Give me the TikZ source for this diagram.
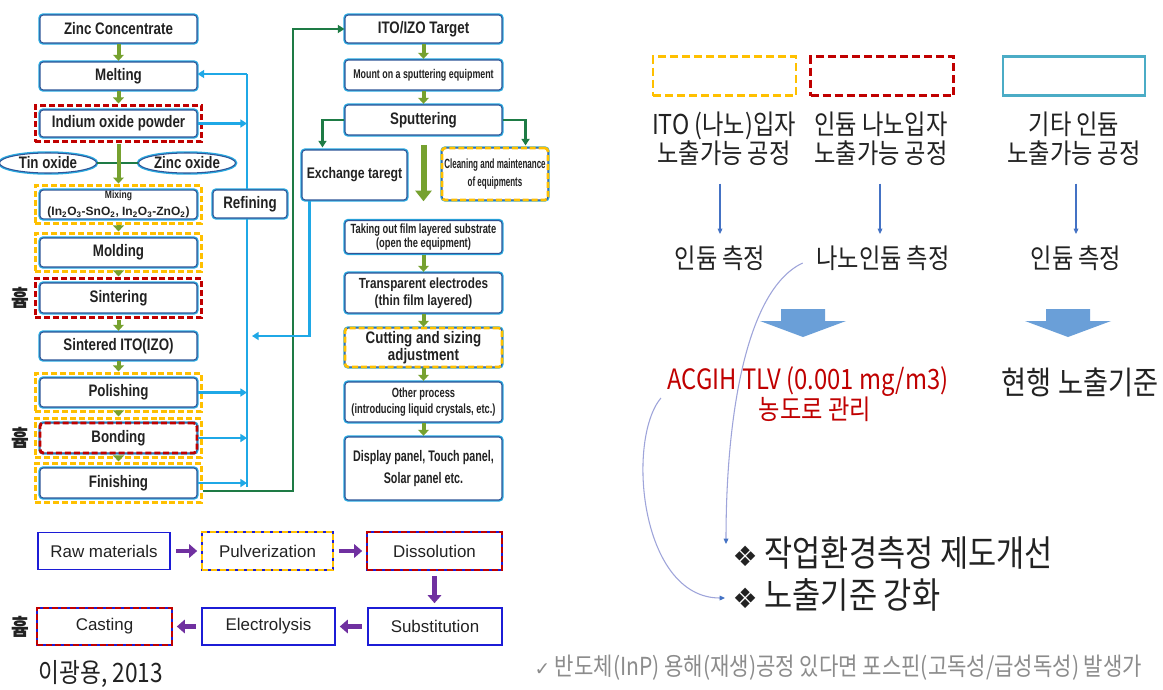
\documentclass[tikz,border=0pt]{standalone}
\usepackage{fontspec}
\setmainfont{Liberation Sans}
\newfontfamily\cond{Liberation Sans}[FakeStretch=0.8]
\newfontfamily\condm{Liberation Sans}[FakeStretch=0.7]
\newfontfamily\condn{Liberation Sans}[FakeStretch=0.6]
\newfontfamily\krf{Noto Sans CJK KR}[FakeStretch=0.85]
\newfontfamily\symf{DejaVu Sans}
\usetikzlibrary{arrows.meta,shapes.geometric,calc,fit}
\definecolor{cyanb}{HTML}{29ABE2}
\definecolor{navyb}{HTML}{2F5597}
\definecolor{oliveg}{HTML}{76A12F}
\definecolor{dgreen}{HTML}{1E7B45}
\definecolor{lblue}{HTML}{1FA8E6}
\definecolor{yel}{HTML}{FFC000}
\definecolor{redd}{HTML}{C00000}
\definecolor{purp}{HTML}{7030A0}
\definecolor{bblue}{HTML}{1C1CD6}
\definecolor{txt}{HTML}{222222}
\definecolor{tblue}{HTML}{4472C4}
\definecolor{curv}{HTML}{9EA4DA}
\definecolor{blkc}{HTML}{6A9FD8}
\definecolor{grayt}{HTML}{8C8C8C}
\definecolor{legcy}{HTML}{4BACC6}
\begin{document}
\begin{tikzpicture}[x=0.75pt,y=-0.75pt,
 pbox/.style={draw=navyb, line width=0.8pt, rounded corners=2.5pt, fill=white,
   preaction={draw=cyanb, line width=2.6pt}, minimum width=117.75pt, minimum height=21pt,
   inner sep=0.5pt, align=center, text=txt, font=\cond\bfseries\fontsize{12.5}{14}\selectfont},
 ebox/.style={ellipse, draw=navyb, line width=0.8pt, fill=white, preaction={draw=cyanb, line width=2.6pt},
   minimum width=72.75pt, minimum height=15pt, inner xsep=0pt, inner ysep=-2.5pt, text=txt,
   font=\cond\bfseries\fontsize{12.5}{14}\selectfont},
 ydash/.style={draw=yel, line width=2pt, dash pattern=on 4.5pt off 2.2pt, inner sep=3pt},
 rdash/.style={draw=redd, line width=2pt, dash pattern=on 4.5pt off 2.2pt, inner sep=3pt},
 yover/.style={postaction={draw=yel, line width=2pt, dash pattern=on 4.5pt off 2.2pt}},
 rover/.style={postaction={draw=redd, line width=2.2pt, dash pattern=on 4.5pt off 2.2pt}},
 garr/.style={draw=oliveg, line width=3pt, -{Triangle[length=4.5pt,width=8pt]}, shorten <=0.5pt, shorten >=0.5pt},
 dgline/.style={draw=dgreen, line width=2pt},
 dgarr/.style={draw=dgreen, line width=2pt, -{Triangle[length=5pt,width=6pt]}},
 bline/.style={draw=lblue, line width=2pt},
 barr/.style={draw=lblue, line width=2pt, -{Triangle[length=5pt,width=6pt]}},
 bbox/.style={draw=bblue, line width=1.2pt, fill=white, minimum width=99pt, minimum height=27.75pt,
   text=txt, font=\fontsize{12.7}{15}\selectfont},
 parr/.style={draw=purp, line width=3.5pt, -{Triangle[length=6pt,width=10pt]}, shorten <=4pt, shorten >=3pt},
 humlabel/.style={text=txt, font=\krf\bfseries\fontsize{17}{20}\selectfont, inner sep=0pt},
 krt/.style={text=txt, font=\krf\fontsize{20.5}{22}\selectfont, align=center, inner sep=1pt},
 legy/.style={draw=yel, line width=2.2pt, dash pattern=on 6pt off 3pt, minimum width=107.25pt, minimum height=29.25pt},
 legr/.style={draw=redd, line width=2.2pt, dash pattern=on 6pt off 3pt, minimum width=107.25pt, minimum height=29.25pt},
 legc/.style={draw=legcy, line width=1.8pt, minimum width=106.5pt, minimum height=29.25pt},
 tarr/.style={draw=tblue, line width=0.8pt, -{Triangle[length=4pt,width=3.5pt]}},
 carr/.style={draw=curv, line width=0.8pt, -{Triangle[length=4pt,width=3.5pt,color=tblue]}},
 blockarr/.style={fill=blkc},
]
\path[use as bounding box, fill=white] (0,0) rectangle (1163,689);

% refining return line (light blue)
\coordinate (bt) at (247,74);
\coordinate (bb) at (247,487);
\coordinate (gc) at (293,29);
\coordinate (ret) at (252,336);
\draw[bline] (bt) -- (bb);

% ---------------- left column ----------------
\node[pbox] (zinc) at (118.5,29) {Zinc Concentrate};
\node[pbox] (melt) at (118.5,76) {Melting};
\node[pbox, minimum height=20.25pt] (indium) at (118.5,123.5) {Indium oxide powder};
\node[rdash, fit=(indium)] (indiumo) {};
\node[ebox] (tin) at (48,163) {Tin oxide};
\node[ebox] (zincox) at (187,163) {Zinc oxide};
\node[pbox, minimum height=18.75pt] (mix) at (118.5,204.5)
  {{\fontsize{8}{9}\selectfont Mixing}\\[-1pt]{\normalfont\bfseries\fontsize{9}{10}\selectfont (In\textsubscript{2}O\textsubscript{3}-SnO\textsubscript{2}, In\textsubscript{2}O\textsubscript{3}-ZnO\textsubscript{2})}};
\node[ydash, fit=(mix)] (mixo) {};
\node[pbox, minimum width=55.5pt] (refining) at (250,204) {Refining};
\node[pbox, minimum height=21.75pt] (mold) at (118.5,252.5) {Molding};
\node[ydash, fit=(mold)] (moldo) {};
\node[pbox, minimum height=22.5pt] (sinter) at (118.5,298) {Sintering};
\node[rdash, fit=(sinter)] (sintero) {};
\node[pbox] (sintered) at (118.5,346) {Sintered ITO(IZO)};
\node[pbox, minimum height=21.75pt] (polish) at (118.5,392.5) {Polishing};
\node[ydash, fit=(polish)] (polisho) {};
\node[pbox, minimum height=22.5pt, rover] (bond) at (118.5,438) {Bonding};
\node[ydash, fit=(bond)] (bondo) {};
\node[pbox, minimum height=22.5pt] (finish) at (118.5,483) {Finishing};
\node[ydash, fit=(finish)] (finisho) {};

\node[humlabel] (h1) at (20,298) {흄};
\node[humlabel] (h2) at (20,438) {흄};
\node[humlabel] (h3) at (20,627) {흄};

% ---------------- middle column ----------------
\node[pbox] (target) at (423.5,29) {ITO/IZO Target};
\node[pbox, minimum height=22.5pt, font=\condm\bfseries\fontsize{9.5}{11}\selectfont] (mount) at (423.5,75) {Mount on a sputtering equipment};
\node[pbox, minimum height=22.5pt] (sputter) at (423.5,120) {Sputtering};
\node[pbox, minimum width=78.75pt, minimum height=37.5pt, font=\cond\bfseries\fontsize{11.5}{13}\selectfont] (exch) at (354.5,175) {Exchange taregt};
\node[pbox, yover, minimum width=79.5pt, minimum height=39pt, font=\condn\bfseries\fontsize{10}{13}\selectfont] (clean) at (495,174) {Cleaning and maintenance\\of equipments};
\node[pbox, minimum height=24.75pt, font=\condm\bfseries\fontsize{10}{11}\selectfont] (takeout) at (423.5,237) {Taking out film layered substrate\\(open the equipment)};
\node[pbox, minimum height=30pt, font=\cond\bfseries\fontsize{11}{13}\selectfont] (transp) at (423.5,293) {Transparent electrodes\\(thin film layered)};
\node[pbox, yover, minimum height=29.25pt, font=\cond\bfseries\fontsize{12.5}{13}\selectfont] (cutting) at (423.5,347.5) {Cutting and sizing\\adjustment};
\node[pbox, minimum height=30pt, font=\condm\bfseries\fontsize{10}{12}\selectfont] (other) at (423.5,402) {Other process\\(introducing liquid crystals, etc.)};
\node[pbox, minimum height=47.25pt, font=\condm\bfseries\fontsize{11.5}{17}\selectfont] (display) at (423.5,468.5) {Display panel, Touch panel,\\Solar panel etc.};

% ---------------- bottom row ----------------
\node[bbox] (raw) at (104,551) {Raw materials};
\node[bbox, minimum width=98.25pt, minimum height=28.5pt, yover] (pulv) at (267.5,551) {Pulverization};
\node[bbox, minimum width=101.25pt, minimum height=28.5pt, rover] (diss) at (434.5,551) {Dissolution};
\node[bbox, minimum width=100.5pt] (subst) at (435,626.5) {Substitution};
\node[bbox, minimum width=99.75pt] (elec) at (268.5,626.5) {Electrolysis};
\node[bbox, minimum width=101.25pt, rover] (cast) at (104.5,626.5) {Casting};
\node[krt, font=\krf\fontsize{20}{22}\selectfont] (cite) at (101,674) {이광용, 2013};

% ---------------- connectors left/middle ----------------
\draw[garr] (zinc) -- (melt);
\draw[garr] (melt) -- (indiumo);
\draw[dgline] (tin) -- (zincox);
\draw[garr] (indiumo) -- (mixo);
\draw[garr] (mixo) -- (moldo);
\draw[garr] (moldo) -- (sintero);
\draw[garr] (sintero) -- (sintered);
\draw[garr] (sintered) -- (polisho);
\draw[garr] (polisho) -- (bondo);
\draw[garr] (bondo) -- (finisho);

\draw[garr] (target) -- (mount);
\draw[garr] (mount) -- (sputter);
\draw[garr, line width=4.5pt, -{Triangle[length=8pt,width=12pt]}, shorten <=7pt, shorten >=14pt] (sputter) -- (takeout);
\draw[garr] (takeout) -- (transp);
\draw[garr] (transp) -- (cutting);
\draw[garr] (cutting) -- (other);
\draw[garr] (other) -- (display);

\draw[dgarr] (sputter.west) -| ($(exch.north west)+(21,-2)$);
\draw[dgarr] (sputter.east) -| ($(clean.north east)+(-23,-2)$);
\draw[dgarr] ($(finisho.east)+(0,8)$) -| (gc) -- (target.west);

\draw[barr] (bt) -- (bt -| melt.east);
\draw[barr] (indium.east) -- (indium.east -| bt);
\draw[barr] (polish.east) -- (polish.east -| bt);
\draw[barr] (bond.east) -- (bond.east -| bt);
\draw[barr] (finish.east) -- (finish.east -| bt);
\draw[barr] ($(exch.south west)+(8,0)$) |- (ret);

\draw[parr] (raw) -- (pulv);
\draw[parr] (pulv) -- (diss);
\draw[parr] (diss.south) -- (diss.south |- subst.north);
\draw[parr] (subst) -- (elec);
\draw[parr] (elec) -- (cast);

% ---------------- right panel ----------------
\node[legy] (lg1) at (724.5,76) {};
\node[legr] (lg2) at (882,76) {};
\node[legc] (lg3) at (1074,76) {};
\node[krt] (t1) at (724,139) {ITO (나노)입자\\노출가능 공정};
\node[krt] (t2) at (881,139) {인듐 나노입자\\노출가능 공정};
\node[krt] (t3) at (1074,139) {기타 인듐\\노출가능 공정};
\node[krt] (m1) at (720,258) {인듐 측정};
\node[krt] (m2) at (883,258) {나노인듐 측정};
\node[krt] (m3) at (1076,258) {인듐 측정};
\draw[tarr, shorten <=12pt, shorten >=7.5pt] (t1.south -| m1.north) -- (m1.north);
\draw[tarr, shorten <=12pt, shorten >=7.5pt] ($(t2.south -| m2.north)+(-3,0)$) -- ($(m2.north)+(-3,0)$);
\draw[tarr, shorten <=12pt, shorten >=7.5pt] (t3.south -| m3.north) -- (m3.north);

\fill[blockarr, shift={(803,309)}] (-22,0) -- (22,0) -- (22,12) -- (43,12) -- (0,28) -- (-43,12) -- (-22,12) -- cycle;
\fill[blockarr, shift={(1068,309)}] (-22,0) -- (22,0) -- (22,12) -- (43,12) -- (0,28) -- (-43,12) -- (-22,12) -- cycle;

\node[krt, text=redd, font=\krf\fontsize{21}{22}\selectfont] (acg1) at (808,382) {ACGIH TLV (0.001 mg/m3)};
\node[krt, text=redd, font=\krf\fontsize{20.5}{22}\selectfont] (acg2) at (815,409) {농도로 관리};
\node[krt, font=\krf\fontsize{24}{26}\selectfont] (cur) at (1080,382) {현행 노출기준};
\node[krt, anchor=west, font=\krf\fontsize{27}{29}\selectfont] (b1) at (731,553) {{\symf\fontsize{21}{22}\selectfont ❖} 작업환경측정 제도개선};
\node[krt, anchor=west, font=\krf\fontsize{27}{29}\selectfont] (b2) at (731,595) {{\symf\fontsize{21}{22}\selectfont ❖} 노출기준 강화};

\draw[carr] ($(m2.west)+(-12,5)$) .. controls (745,290) and (726,420) .. ($(b1.west)+(-5,-9)$);
\draw[carr] ($(acg1.west)+(-5,16)$) .. controls (626,440) and (640,598) .. ($(b2.west)+(-6,3)$);

\node[krt, anchor=west, text=grayt, font=\krf\fontsize{18.6}{22}\selectfont] (note) at (533,668) {{\symf\fontsize{14}{16}\selectfont ✓} 반도체(InP) 용해(재생)공정 있다면 포스핀(고독성/급성독성) 발생가};
\end{tikzpicture}
\end{document}
